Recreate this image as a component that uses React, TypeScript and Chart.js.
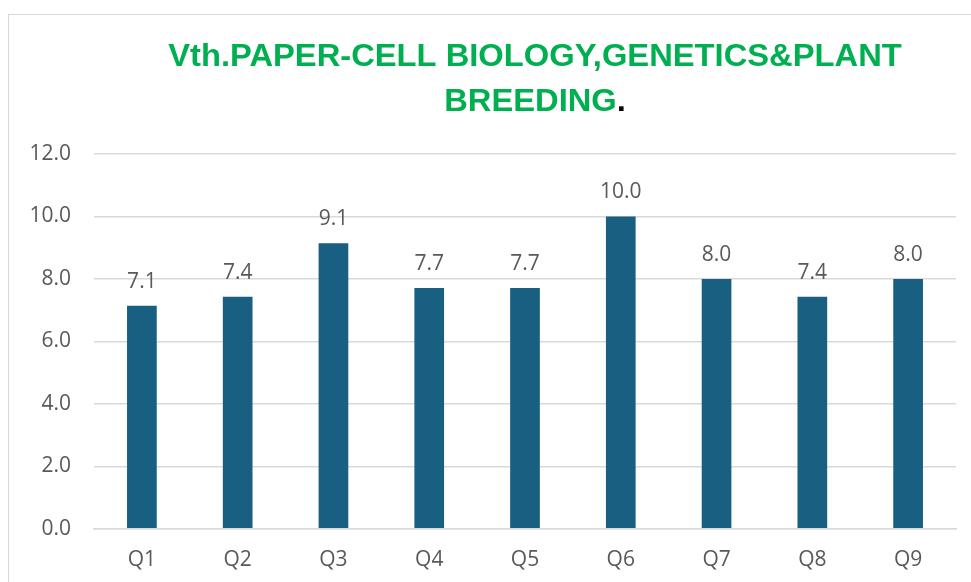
import React, { useEffect, useRef } from "react";
import { Chart, registerables } from "chart.js";

Chart.register(...registerables);

const categories = ["Q1", "Q2", "Q3", "Q4", "Q5", "Q6", "Q7", "Q8", "Q9"];
const scores = [7.14, 7.43, 9.14, 7.71, 7.71, 10.0, 8.0, 7.43, 8.0];
const yTicks = [0, 2, 4, 6, 8, 10, 12];
const titleLine1 = "Vth.PAPER-CELL BIOLOGY,GENETICS&PLANT";
const titleLine2 = "BREEDING";
const titleTail = ".";

const FONT = "'Open Sans', 'Noto Sans', sans-serif";
const TEXT = "#595959";
const BAR = "#185f81";
const GREEN = "#00B050";
const TITLE_SX = 1.055;

const titlePlugin = {
  id: "customTitle",
  afterDraw(chart: any) {
    const ctx = chart.ctx;
    const cx = chart.width / 2;
    ctx.save();
    ctx.font = "bold 31px 'Liberation Sans', Arial, sans-serif";
    ctx.textBaseline = "alphabetic";
    ctx.textAlign = "left";
    const w1 = ctx.measureText(titleLine1).width * TITLE_SX;
    const w2 = ctx.measureText(titleLine2).width * TITLE_SX;
    const w3 = ctx.measureText(titleTail).width * TITLE_SX;
    const draw = (t: string, x: number, y: number, color: string) => {
      ctx.save();
      ctx.translate(x, y);
      ctx.scale(TITLE_SX, 1);
      ctx.fillStyle = color;
      ctx.fillText(t, 0, 0);
      ctx.restore();
    };
    draw(titleLine1, cx - w1 / 2, 51, GREEN);
    const x2 = cx - (w2 + w3) / 2;
    draw(titleLine2, x2, 96, GREEN);
    draw(titleTail, x2 + w2, 96, "#000000");
    ctx.restore();
  },
};

const labelPlugin = {
  id: "valueLabels",
  afterDatasetsDraw(chart: any) {
    const ctx = chart.ctx;
    const meta = chart.getDatasetMeta(0);
    ctx.save();
    ctx.font = `21px ${FONT}`;
    ctx.fillStyle = TEXT;
    ctx.textAlign = "center";
    ctx.textBaseline = "alphabetic";
    meta.data.forEach((bar: any, i: number) => {
      ctx.fillText(scores[i].toFixed(1), bar.x, bar.y - 18);
    });
    ctx.restore();
  },
};

export default function App() {
  const ref = useRef<HTMLCanvasElement>(null);
  useEffect(() => {
    if (!ref.current) return;
    const chart = new Chart(ref.current, {
      type: "bar",
      data: {
        labels: categories,
        datasets: [
          {
            data: scores,
            backgroundColor: BAR,
            borderWidth: 0,
            barPercentage: 0.31,
            categoryPercentage: 1,
          },
        ],
      },
      options: {
        animation: false,
        responsive: false,
        devicePixelRatio: 1,
        layout: { padding: { left: 19, right: 105, top: 139, bottom: 23 } },
        plugins: {
          legend: { display: false },
          title: { display: false },
          tooltip: { enabled: false },
        },
        scales: {
          x: {
            grid: { display: false, drawTicks: false },
            border: { display: true, color: "#d9d9d9", width: 1.5 },
            ticks: { color: TEXT, font: { family: FONT, size: 21 }, padding: 19 },
          },
          y: {
            min: 0,
            max: 12,
            afterBuildTicks: (axis: any) => {
              axis.ticks = yTicks.map((v) => ({ value: v }));
            },
            afterFit: (axis: any) => {
              axis.width = 66;
            },
            grid: { color: "#d9d9d9", lineWidth: 1.5, drawTicks: false },
            border: { display: false },
            ticks: {
              color: TEXT,
              font: { family: FONT, size: 21 },
              padding: 23,
              callback: (v: any) => Number(v).toFixed(1),
            },
          },
        },
      },
      plugins: [titlePlugin, labelPlugin],
    });
    return () => chart.destroy();
  }, []);

  return (
    <div
      style={{
        position: "fixed",
        left: 0,
        top: 0,
        width: 971,
        height: 582,
        overflow: "hidden",
        background: "#ffffff",
      }}
    >
      <div
        style={{
          position: "absolute",
          left: 8,
          top: 14,
          width: 1052,
          height: 620,
          border: "1px solid #d9d9d9",
          background: "#ffffff",
        }}
      >
        <canvas ref={ref} width={1052} height={600} style={{ display: "block", width: 1052, height: 600 }} />
      </div>
    </div>
  );
}
